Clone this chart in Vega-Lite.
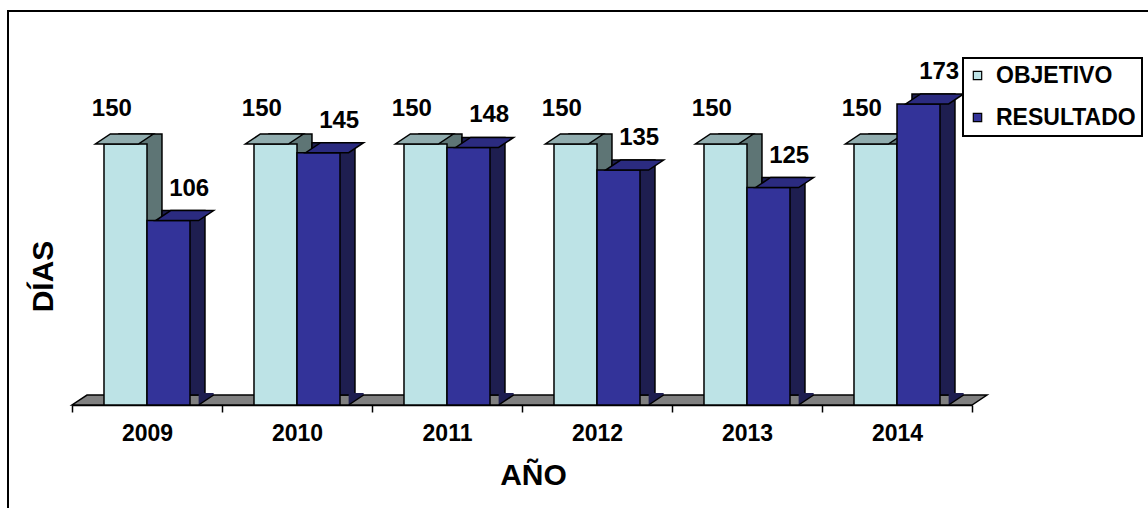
{
  "$schema": "https://vega.github.io/schema/vega-lite/v6.json",
  "width": 1150,
  "height": 510,
  "autosize": {"type": "none"},
  "padding": {"left": 8, "top": 11, "right": 0, "bottom": 0},
  "background": "white",
  "config": {
    "view": {"stroke": "black", "strokeWidth": 2},
    "font": "Liberation Sans",
    "legend": {"strokeWidth": 2}
  },
  "data": {
    "values": [
      {"anio": "2009", "serie": "OBJETIVO", "dias": 150},
      {"anio": "2009", "serie": "RESULTADO", "dias": 106},
      {"anio": "2010", "serie": "OBJETIVO", "dias": 150},
      {"anio": "2010", "serie": "RESULTADO", "dias": 145},
      {"anio": "2011", "serie": "OBJETIVO", "dias": 150},
      {"anio": "2011", "serie": "RESULTADO", "dias": 148},
      {"anio": "2012", "serie": "OBJETIVO", "dias": 150},
      {"anio": "2012", "serie": "RESULTADO", "dias": 135},
      {"anio": "2013", "serie": "OBJETIVO", "dias": 150},
      {"anio": "2013", "serie": "RESULTADO", "dias": 125},
      {"anio": "2014", "serie": "OBJETIVO", "dias": 150},
      {"anio": "2014", "serie": "RESULTADO", "dias": 173}
    ]
  },
  "encoding": {
    "x": {
      "field": "anio",
      "type": "nominal",
      "scale": {"range": [64, 964], "paddingInner": 0, "paddingOuter": 0},
      "axis": {
        "orient": "bottom",
        "offset": -116,
        "title": "AÑO",
        "titleFont": "Liberation Sans",
        "titleFontSize": 30,
        "titleFontWeight": "bold",
        "titleColor": "black",
        "titleX": 525,
        "titleY": 79,
        "titleBaseline": "alphabetic",
        "titleAlign": "center",
        "labelFont": "Liberation Sans",
        "labelFontSize": 23,
        "labelFontWeight": "bold",
        "labelColor": "black",
        "labelAngle": 0,
        "labelPadding": 10,
        "tickBand": "extent",
        "tickSize": 7,
        "tickColor": "black",
        "tickWidth": 1.5,
        "domainColor": "black",
        "domainWidth": 1.5,
        "grid": false
      }
    },
    "y": {
      "field": "dias",
      "type": "quantitative",
      "scale": {"domain": [0, 200], "range": [394, 46], "nice": false},
      "axis": {
        "title": "DÍAS",
        "titleFont": "Liberation Sans",
        "titleFontSize": 30,
        "titleFontWeight": "bold",
        "titleColor": "black",
        "titleAngle": 270,
        "titleX": 35,
        "titleY": 265,
        "titleBaseline": "middle",
        "titleAlign": "center",
        "labels": false,
        "ticks": false,
        "domain": false,
        "grid": false
      }
    }
  },
  "layer": [
    {
      "transform": [{"filter": "datum.anio === '2012' && datum.serie === 'OBJETIVO'"}],
      "mark": {
        "type": "point",
        "shape": "M-1,0L1,0L1.0333,-0.0222L-0.9667,-0.0222Z",
        "size": 810000,
        "filled": true,
        "fill": "#808080",
        "stroke": "black",
        "strokeWidth": 1.5,
        "opacity": 1
      },
      "encoding": {
        "x": {"field": "anio", "type": "nominal", "bandPosition": 0},
        "y": {"datum": 0, "type": "quantitative"}
      }
    },
    {
      "transform": [{"filter": "datum.serie === 'OBJETIVO'"}],
      "mark": {"type": "bar", "yOffset": -10, "y2Offset": -10, "fill": "#5E7575", "stroke": "black", "strokeWidth": 1.5},
      "encoding": {
        "xOffset": {"field": "serie", "type": "nominal", "scale": {"domain": ["OBJETIVO", "RESULTADO"], "paddingInner": 0, "paddingOuter": 0.744, "align": 0.734}}
      }
    },
    {
      "transform": [{"filter": "datum.serie === 'OBJETIVO'"}],
      "mark": {"type": "bar", "stroke": "black", "strokeWidth": 1.5},
      "encoding": {
        "xOffset": {"field": "serie", "type": "nominal", "scale": {"domain": ["OBJETIVO", "RESULTADO"], "paddingInner": 0, "paddingOuter": 0.744}},
        "color": {
          "field": "serie",
          "type": "nominal",
          "scale": {"domain": ["OBJETIVO", "RESULTADO"], "range": ["#BDE3E6", "#333399"]},
          "legend": {
            "title": null,
            "orient": "none",
            "legendX": 955,
            "legendY": 47,
            "symbolType": "square",
            "symbolSize": 70,
            "symbolStrokeColor": "black",
            "symbolStrokeWidth": 1.2,
            "symbolOpacity": 1,
            "labelFont": "Liberation Sans",
            "labelFontSize": 23,
            "labelFontWeight": "bold",
            "labelColor": "black",
            "labelOffset": 7,
            "symbolOffset": -3,
            "padding": 6,
            "rowPadding": 18,
            "strokeColor": "black",
            "fillColor": "white"
          }
        }
      }
    },
    {
      "transform": [{"filter": "datum.serie === 'OBJETIVO'"}],
      "mark": {
        "type": "point",
        "shape": "M-0.86,0L0.86,0L1.46,-0.4L-0.26,-0.4Z",
        "size": 2500,
        "filled": true,
        "fill": "#91ADAF",
        "stroke": "black",
        "strokeWidth": 1.5,
        "opacity": 1
      },
      "encoding": {
        "xOffset": {"field": "serie", "type": "nominal", "scale": {"domain": ["OBJETIVO", "RESULTADO"], "paddingInner": 0, "paddingOuter": 0.744}}
      }
    },
    {
      "transform": [{"filter": "datum.serie === 'RESULTADO'"}],
      "mark": {"type": "bar", "yOffset": -10, "y2Offset": -10, "fill": "#1E1E50", "stroke": "black", "strokeWidth": 1.5},
      "encoding": {
        "xOffset": {"field": "serie", "type": "nominal", "scale": {"domain": ["OBJETIVO", "RESULTADO"], "paddingInner": 0, "paddingOuter": 0.744, "align": 0.734}}
      }
    },
    {
      "transform": [{"filter": "datum.serie === 'RESULTADO'"}],
      "mark": {"type": "bar", "stroke": "black", "strokeWidth": 1.5},
      "encoding": {
        "xOffset": {"field": "serie", "type": "nominal", "scale": {"domain": ["OBJETIVO", "RESULTADO"], "paddingInner": 0, "paddingOuter": 0.744}},
        "color": {"field": "serie", "type": "nominal"}
      }
    },
    {
      "transform": [{"filter": "datum.serie === 'RESULTADO'"}],
      "mark": {
        "type": "point",
        "shape": "M-0.86,0L0.86,0L1.46,-0.4L-0.26,-0.4Z",
        "size": 2500,
        "filled": true,
        "fill": "#2B2B80",
        "stroke": "black",
        "strokeWidth": 1.5,
        "opacity": 1
      },
      "encoding": {
        "xOffset": {"field": "serie", "type": "nominal", "scale": {"domain": ["OBJETIVO", "RESULTADO"], "paddingInner": 0, "paddingOuter": 0.744}}
      }
    },
    {
      "transform": [{"filter": "datum.serie === 'RESULTADO'"}],
      "mark": {
        "type": "point",
        "shape": "M0.86,0L1.46,-0.4L1.46,-0.48L0.86,-0.48Z",
        "size": 2500,
        "filled": true,
        "fill": "#1E1E50",
        "strokeWidth": 0,
        "opacity": 1
      },
      "encoding": {
        "xOffset": {"field": "serie", "type": "nominal", "scale": {"domain": ["OBJETIVO", "RESULTADO"], "paddingInner": 0, "paddingOuter": 0.744}},
        "y": {"datum": 0, "type": "quantitative"}
      }
    },
    {
      "transform": [{"filter": "datum.serie === 'RESULTADO'"}],
      "mark": {
        "type": "point",
        "shape": "M0.86,0L1.46,-0.4",
        "size": 2500,
        "filled": false,
        "stroke": "black",
        "strokeWidth": 1.5,
        "opacity": 1
      },
      "encoding": {
        "xOffset": {"field": "serie", "type": "nominal", "scale": {"domain": ["OBJETIVO", "RESULTADO"], "paddingInner": 0, "paddingOuter": 0.744}},
        "y": {"datum": 0, "type": "quantitative"}
      }
    },
    {
      "transform": [{"filter": "datum.serie === 'OBJETIVO'"}],
      "mark": {"type": "text", "font": "Liberation Sans", "fontSize": 24, "fontWeight": "bold", "color": "black", "baseline": "alphabetic", "align": "center", "dx": -5, "dy": -28},
      "encoding": {
        "xOffset": {"field": "serie", "type": "nominal", "scale": {"domain": ["OBJETIVO", "RESULTADO"], "paddingInner": 0, "paddingOuter": 0.744}},
        "text": {"field": "dias", "type": "quantitative"}
      }
    },
    {
      "transform": [{"filter": "datum.serie === 'RESULTADO'"}],
      "mark": {"type": "text", "font": "Liberation Sans", "fontSize": 24, "fontWeight": "bold", "color": "black", "baseline": "alphabetic", "align": "center", "dx": 12, "dy": -25},
      "encoding": {
        "xOffset": {"field": "serie", "type": "nominal", "scale": {"domain": ["OBJETIVO", "RESULTADO"], "paddingInner": 0, "paddingOuter": 0.744}},
        "text": {"field": "dias", "type": "quantitative"}
      }
    }
  ],
  "resolve": {"scale": {"xOffset": "independent"}}
}
